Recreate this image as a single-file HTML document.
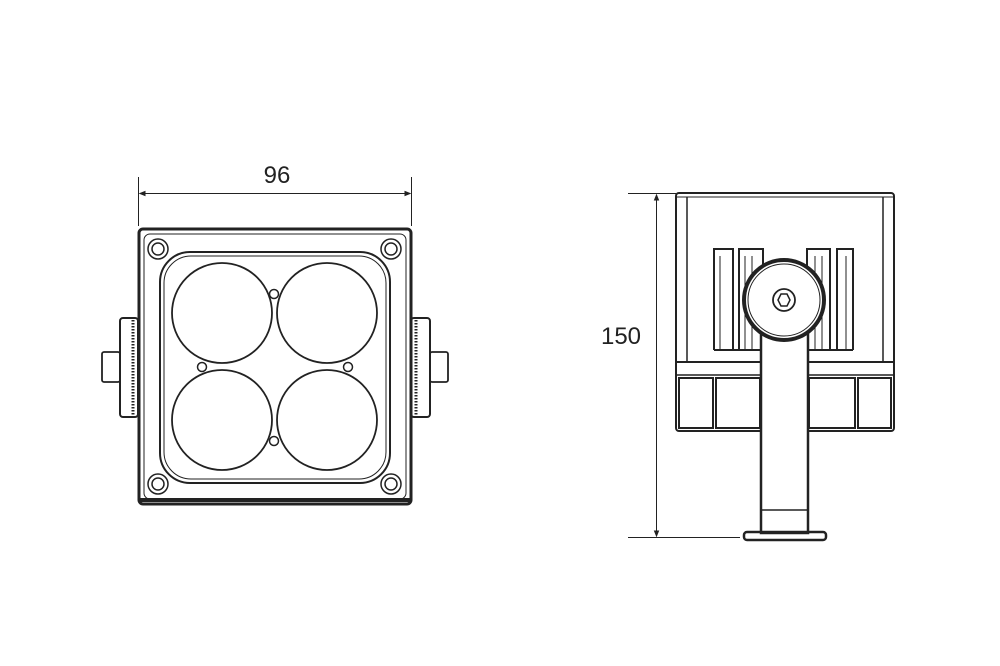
<!DOCTYPE html>
<html><head><meta charset="utf-8"><style>html,body{margin:0;padding:0;background:#fff;}svg{display:block;}</style></head>
<body>
<svg width="1000" height="666" viewBox="0 0 1000 666" xmlns="http://www.w3.org/2000/svg" font-family="Liberation Sans, sans-serif">
<rect width="1000" height="666" fill="#fff"/>
<g stroke="#222" fill="none">
<!-- dimension 96 -->
<line x1="138.5" y1="177" x2="138.5" y2="226" stroke-width="1"/>
<line x1="411.5" y1="177" x2="411.5" y2="226" stroke-width="1"/>
<line x1="140" y1="193.5" x2="410" y2="193.5" stroke-width="1"/>
<path d="M140 193.5 l5 -2 v4 z M410 193.5 l-5 -2 v4 z" fill="#222"/>
<!-- front body -->
<rect x="139" y="229" width="272" height="275" rx="4" stroke-width="3"/>
<path d="M139 500 h272" stroke-width="4"/>
<rect x="144" y="234" width="262" height="265" rx="6" stroke-width="1"/>
<rect x="160" y="252" width="230" height="231" rx="30" stroke-width="2"/>
<rect x="164" y="256" width="222" height="223" rx="27" stroke-width="1"/>
<circle cx="222" cy="313" r="50" stroke-width="1.8"/>
<circle cx="327" cy="313" r="50" stroke-width="1.8"/>
<circle cx="222" cy="420" r="50" stroke-width="1.8"/>
<circle cx="327" cy="420" r="50" stroke-width="1.8"/>
<circle cx="274" cy="294" r="4.5" stroke-width="1.5"/>
<circle cx="202" cy="367" r="4.5" stroke-width="1.5"/>
<circle cx="348" cy="367" r="4.5" stroke-width="1.5"/>
<circle cx="274" cy="441" r="4.5" stroke-width="1.5"/>
<g stroke-width="1.5">
<circle cx="158" cy="249" r="10"/><circle cx="158" cy="249" r="6"/>
<circle cx="391" cy="249" r="10"/><circle cx="391" cy="249" r="6"/>
<circle cx="158" cy="484" r="10"/><circle cx="158" cy="484" r="6"/>
<circle cx="391" cy="484" r="10"/><circle cx="391" cy="484" r="6"/>
</g>
<!-- side knobs -->
<rect x="120" y="318" width="18" height="99" rx="3" stroke-width="2"/>
<line x1="133" y1="320" x2="133" y2="415" stroke-width="3" stroke-dasharray="1.5 1.5"/>
<rect x="102" y="352" width="18" height="30" rx="2" stroke-width="1.8"/>
<rect x="411" y="318" width="19" height="99" rx="3" stroke-width="2"/>
<line x1="416" y1="320" x2="416" y2="415" stroke-width="3" stroke-dasharray="1.5 1.5"/>
<rect x="430" y="352" width="18" height="30" rx="2" stroke-width="1.8"/>
<!-- dimension 150 -->
<line x1="628" y1="193.5" x2="676" y2="193.5" stroke-width="1"/>
<line x1="628" y1="537.5" x2="740" y2="537.5" stroke-width="1"/>
<line x1="656.5" y1="195" x2="656.5" y2="536" stroke-width="1"/>
<path d="M656.5 195 l-2 5 h4 z M656.5 536 l-2 -5 h4 z" fill="#222"/>
<!-- side view housing -->
<rect x="676" y="193" width="218" height="238" rx="3" stroke-width="2"/>
<line x1="676" y1="197" x2="894" y2="197" stroke-width="1"/>
<line x1="687" y1="197" x2="687" y2="362" stroke-width="1.5"/>
<line x1="883" y1="197" x2="883" y2="362" stroke-width="1.5"/>
<line x1="676" y1="362" x2="894" y2="362" stroke-width="2"/>
<line x1="676" y1="375" x2="894" y2="375" stroke-width="1.5"/>
<!-- fins -->
<g stroke-width="2">
<path d="M714 350 V249 H733 V350"/>
<path d="M739 350 V249 H763 V350"/>
<path d="M807 350 V249 H830 V350"/>
<path d="M837 350 V249 H853 V350"/>
<line x1="714" y1="350" x2="853" y2="350"/>
</g>
<g stroke-width="1">
<line x1="720" y1="256" x2="720" y2="350"/><line x1="745" y1="256" x2="745" y2="350"/><line x1="752" y1="256" x2="752" y2="350"/>
<line x1="815" y1="256" x2="815" y2="350"/><line x1="822" y1="256" x2="822" y2="350"/><line x1="846" y1="256" x2="846" y2="350"/>
</g>
<!-- lower boxes -->
<g stroke-width="2">
<rect x="679" y="378" width="34" height="50"/>
<rect x="716" y="378" width="44" height="50"/>
<rect x="809" y="378" width="46" height="50"/>
<rect x="858" y="378" width="33" height="50"/>
</g>
<!-- stem -->
<rect x="761" y="330" width="47" height="203" fill="#fff" stroke-width="2.5"/>
<line x1="761" y1="510" x2="808" y2="510" stroke-width="1.5"/>
<rect x="744" y="532" width="82" height="8" rx="3" stroke-width="2.5"/>
<!-- wheel -->
<circle cx="784" cy="300" r="40" fill="#fff" stroke-width="4"/>
<circle cx="784" cy="300" r="36" stroke-width="1"/>
<circle cx="784" cy="300" r="11" stroke-width="1.8"/>
<path d="M778 300 l3 -6 h6 l3 6 l-3 6 h-6 z" stroke-width="1.5"/>
</g>
<text x="277" y="183" font-size="24" text-anchor="middle" fill="#222">96</text>
<text x="621" y="344" font-size="24" text-anchor="middle" fill="#222">150</text>
</svg>
</body></html>
